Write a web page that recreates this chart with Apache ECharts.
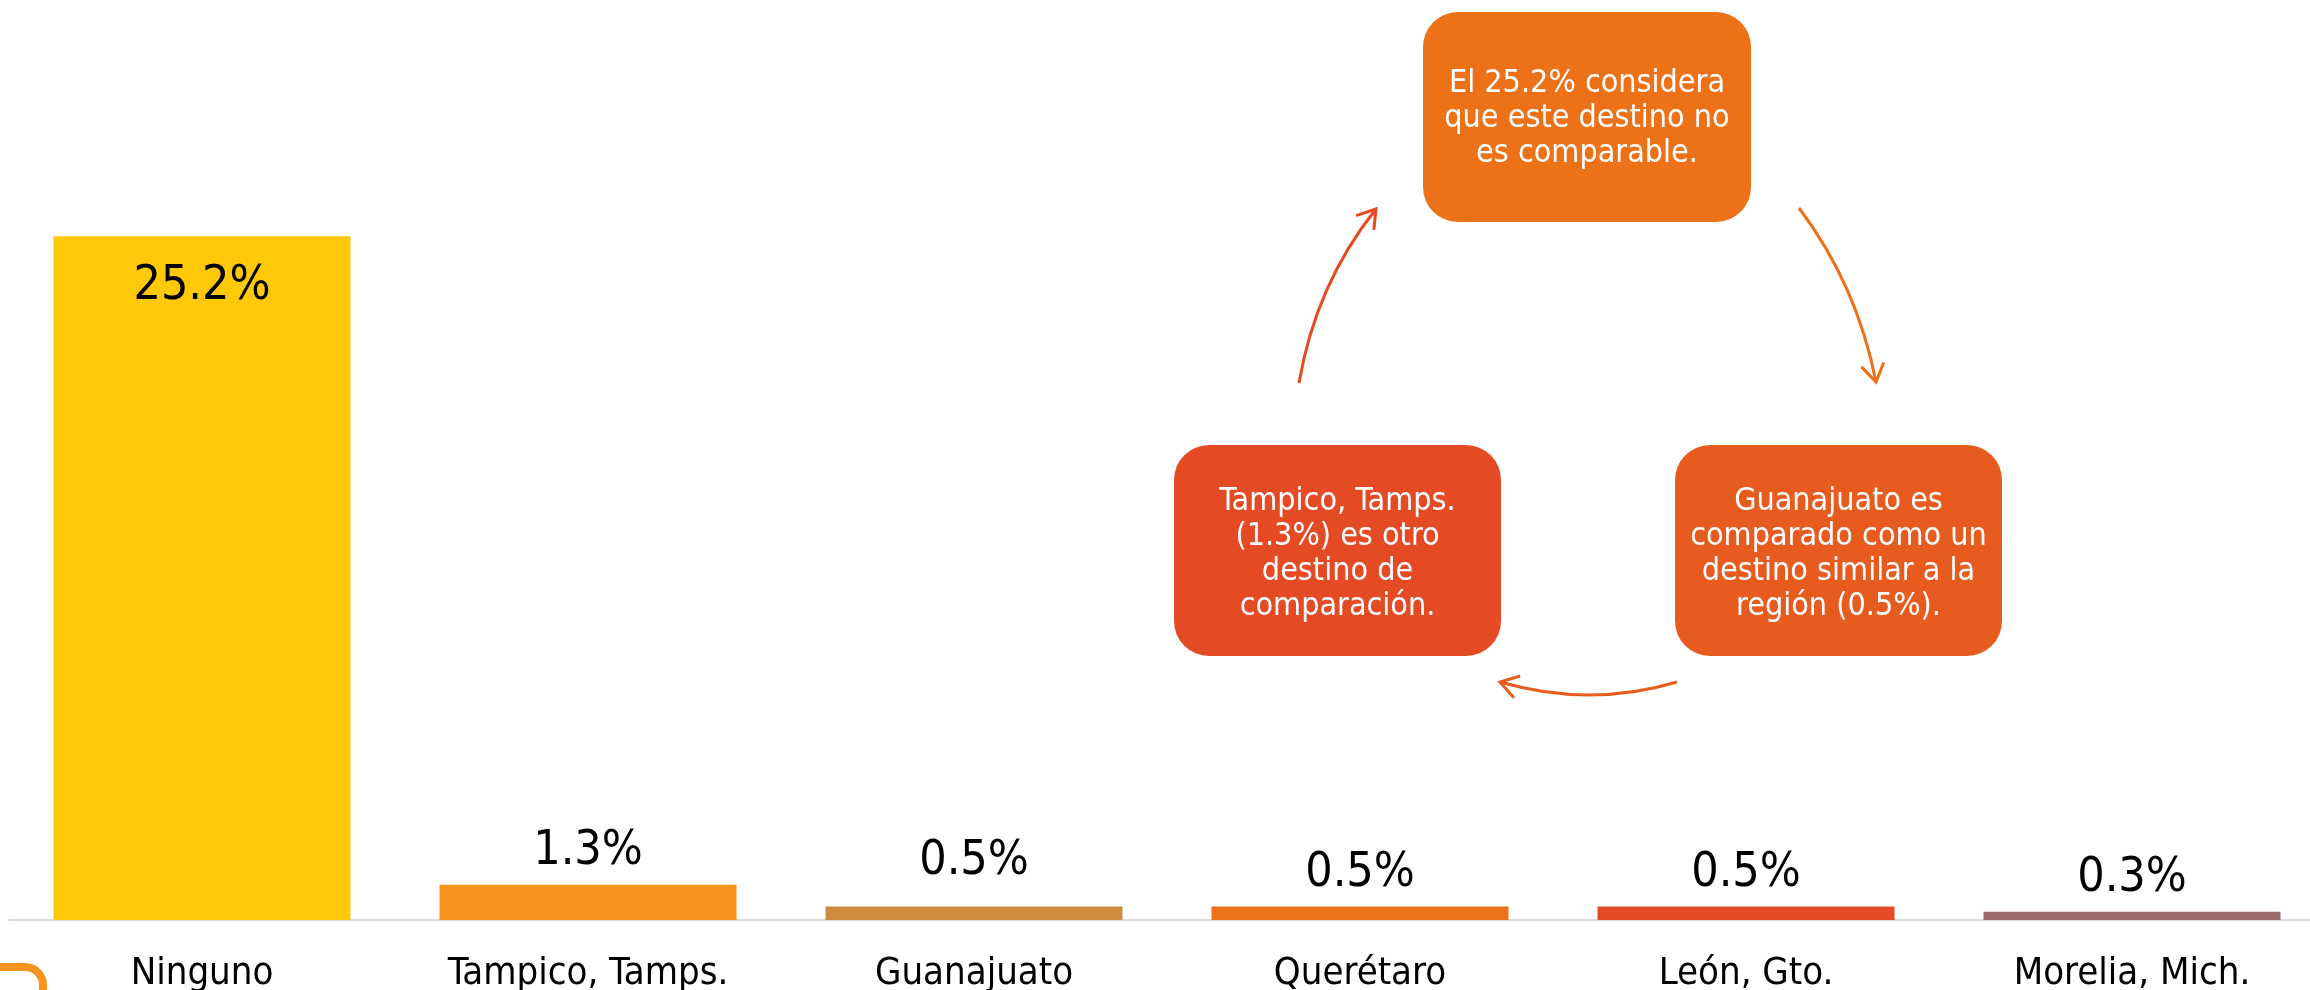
<!DOCTYPE html>
<html>
<head>
<meta charset="utf-8">
<script src="https://cdn.jsdelivr.net/npm/echarts@6/dist/echarts.min.js"></script>
<style>
html,body{margin:0;padding:0;background:#fff;}
#chart{width:2310px;height:990px;}
</style>
</head>
<body>
<div id="chart"></div>
<script>
// ---- data ----
const categories = ['Ninguno', 'Tampico, Tamps.', 'Guanajuato', 'Querétaro', 'León, Gto.', 'Morelia, Mich.'];
const values = [25.2, 1.3, 0.5, 0.5, 0.5, 0.3];
const noteTop = ['El 25.2% considera', 'que este destino no', 'es comparable.'];
const noteLeft = ['Tampico, Tamps.', '(1.3%) es otro', 'destino de', 'comparación.'];
const noteRight = ['Guanajuato es', 'comparado como un', 'destino similar a la', 'región (0.5%).'];

// ---- styles ----
const barColors = ['#FFC90A', '#F7941E', '#CF8B3F', '#EE7219', '#E54B24', '#9E6A6A'];
const FONT = '"DejaVu Sans Condensed", "DejaVu Sans", "Liberation Sans Narrow", sans-serif';

const chart = echarts.init(document.getElementById('chart'), null, {renderer: 'canvas'});

const seriesData = values.map((v, i) => {
  const item = {value: v, itemStyle: {color: barColors[i]}};
  if (i === 0) item.label = {position: 'insideTop', distance: 26};
  if (i === 2) item.label = {offset: [0, -12]};
  return item;
});

function box(x, y, w, h, color, lines, dy) {
  return {
    type: 'group',
    children: [
      {type: 'rect', shape: {x: x, y: y, width: w, height: h, r: 35}, style: {fill: color}},
      {type: 'text', x: x + w / 2, y: y + h / 2 + dy,
        style: {text: lines.join('\n'), fill: '#ffffff', fontSize: 32, fontFamily: FONT,
          align: 'center', verticalAlign: 'middle', lineHeight: 35}}
    ]
  };
}

function arrow(p0, c, p2, color) {
  const dx = p2[0] - c[0], dy = p2[1] - c[1];
  const len = Math.sqrt(dx * dx + dy * dy);
  const ux = dx / len, uy = dy / len;
  const L = 21, a = Math.PI / 5.5;
  const rot = (ang) => [p2[0] - L * (ux * Math.cos(ang) - uy * Math.sin(ang)),
                        p2[1] - L * (ux * Math.sin(ang) + uy * Math.cos(ang))];
  const a1 = rot(a), a2 = rot(-a);
  return [
    {type: 'bezierCurve', shape: {x1: p0[0], y1: p0[1], cpx1: c[0], cpy1: c[1], x2: p2[0], y2: p2[1]},
      style: {stroke: color, lineWidth: 3, fill: null}},
    {type: 'polyline', shape: {points: [a1, p2, a2]},
      style: {stroke: color, lineWidth: 3, fill: null, lineJoin: 'miter'}}
  ];
}

const option = {
  animation: false,
  backgroundColor: '#ffffff',
  grid: {left: 9, width: 2316, top: 106, height: 814, containLabel: false, outerBoundsMode: 'none'},
  xAxis: {
    type: 'category',
    data: categories,
    axisLine: {show: true, lineStyle: {color: '#D9D9D9', width: 2}},
    axisTick: {show: false},
    axisLabel: {color: '#000000', fontSize: 38, fontFamily: FONT, margin: 35, interval: 0}
  },
  yAxis: {
    type: 'value', min: 0, max: 30,
    show: false,
    splitLine: {show: false}
  },
  series: [{
    type: 'bar',
    data: seriesData,
    barWidth: 297,
    label: {
      show: true, position: 'top', distance: 9,
      color: '#000000', fontSize: 48, fontFamily: FONT,
      formatter: (p) => p.value.toFixed(1) + '%'
    }
  }],
  graphic: [
    box(1423, 12, 328, 210, '#EC7117', noteTop, 2),
    box(1174, 445, 327, 211, '#E44A23', noteLeft, 4),
    box(1675, 445, 327, 211, '#E85B1F', noteRight, 4),
    ...arrow([1299, 383], [1316, 284], [1376, 209], '#E54B22'),
    ...arrow([1799, 208], [1857, 285], [1876, 382], '#EC7118'),
    ...arrow([1677, 682], [1590, 708], [1500, 682], '#E85C1E'),
    {type: 'rect', shape: {x: -50, y: 967, width: 93, height: 70, r: 18},
      style: {fill: null, stroke: '#F7941E', lineWidth: 8}}
  ]
};
chart.setOption(option);
</script>
</body>
</html>
